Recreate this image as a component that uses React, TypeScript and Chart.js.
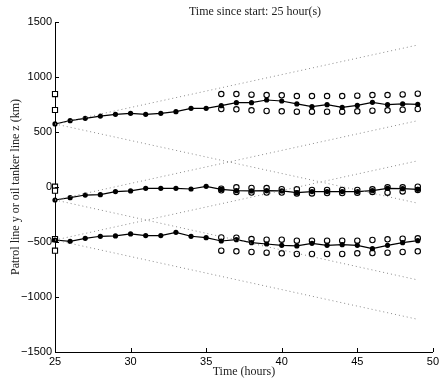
import { useEffect, useRef } from "react";
import { Chart, registerables } from "chart.js";

Chart.register(...registerables);

// ---- Data ----
const hours = [25, 26, 27, 28, 29, 30, 31, 32, 33, 34, 35, 36, 37, 38, 39, 40, 41, 42, 43, 44, 45, 46, 47, 48, 49];
const lineTop = [573, 603, 624, 645, 661, 670, 661, 670, 685, 715, 715, 739, 767, 767, 791, 782, 755, 730, 748, 724, 742, 770, 748, 755, 752];
const lineMid = [-118, -97, -73, -70, -42, -36, -12, -12, -12, -18, 6, -21, -33, -36, -33, -36, -52, -42, -42, -42, -42, -33, -12, -15, -21];
const lineBot = [-482, -494, -467, -448, -445, -427, -442, -442, -412, -448, -461, -491, -479, -506, -518, -530, -536, -512, -530, -524, -530, -561, -530, -506, -488];

const circleHours = [36, 37, 38, 39, 40, 41, 42, 43, 44, 45, 46, 47, 48, 49];
const topUpper = [845, 845, 839, 836, 833, 827, 827, 827, 827, 830, 836, 836, 842, 848];
const topLower = [709, 706, 697, 691, 688, 685, 685, 685, 685, 688, 694, 697, 703, 709];
const midUpper = [-15, -3, -8, -10, -20, -21, -27, -27, -27, -27, -21, -3, -3, 3];
const midLower = [-30, -45, -50, -50, -50, -58, -58, -55, -55, -52, -45, -52, -40, -27];
const botUpper = [-458, -461, -473, -479, -479, -488, -488, -488, -488, -488, -482, -476, -470, -467];
const botLower = [-579, -585, -591, -597, -603, -609, -609, -609, -609, -603, -600, -597, -591, -585];

const squareHour = 25;
const squareValues = [845, 700, 3, -33, -473, -579];

const coneStartHour = 25;
const coneEndHour = 49;
const coneStart = [573, -118, -482];
const coneUpperEnd = [1291, 603, 238];
const coneLowerEnd = [-147, -845, -1203];

const xTicks = [25, 30, 35, 40, 45, 50];
const yTicks = [-1500, -1000, -500, 0, 500, 1000, 1500];

const titleText = "Time since start: 25 hour(s)";
const xTitle = "Time (hours)";
const yTitle = "Patrol line y or oil tanker line z (km)";

const SERIF = "'Liberation Serif', 'DejaVu Serif', serif";
const SANS = "'Liberation Sans', Arial, sans-serif";

function pts(xs: number[], ys: number[]) {
  return xs.map((x, i) => ({ x, y: ys[i] }));
}

export default function App() {
  const ref = useRef<HTMLCanvasElement | null>(null);

  useEffect(() => {
    if (!ref.current) return;

    const cones: any[] = [];
    coneStart.forEach((s, i) => {
      [coneUpperEnd[i], coneLowerEnd[i]].forEach((e) => {
        cones.push({
          data: [
            { x: coneStartHour, y: s },
            { x: coneEndHour, y: e },
          ],
          borderColor: "#8a8a8a",
          borderWidth: 1,
          borderDash: [1, 3],
          pointRadius: 0,
          showLine: true,
          fill: false,
        });
      });
    });

    const solid = (vals: number[]) => ({
      data: pts(hours, vals),
      borderColor: "#000",
      borderWidth: 1.2,
      pointStyle: "circle",
      pointRadius: 2.6,
      pointBackgroundColor: "#000",
      pointBorderColor: "#000",
      pointBorderWidth: 0,
      showLine: true,
      fill: false,
      clip: false,
    });

    const open = (vals: number[]) => ({
      data: pts(circleHours, vals),
      showLine: false,
      pointStyle: "circle",
      pointRadius: 2.7,
      pointBackgroundColor: "rgba(0,0,0,0)",
      pointBorderColor: "#000",
      pointBorderWidth: 1.1,
      clip: false,
    });

    const squares = {
      data: squareValues.map((v) => ({ x: squareHour, y: v })),
      showLine: false,
      pointStyle: "rect",
      pointRadius: 3.6,
      pointBackgroundColor: "#fff",
      pointBorderColor: "#000",
      pointBorderWidth: 1.1,
      clip: false,
    };

    const decorations = {
      id: "decorations",
      afterDraw(chart: any) {
        const { ctx, scales } = chart;
        const xs = scales.x;
        const ys = scales.y;
        ctx.save();
        ctx.strokeStyle = "#000";
        ctx.lineWidth = 1;
        ctx.beginPath();
        xTicks.forEach((t) => {
          const px = Math.round(xs.getPixelForValue(t)) + 0.5;
          ctx.moveTo(px, ys.bottom);
          ctx.lineTo(px, ys.bottom - 4);
        });
        yTicks.forEach((t) => {
          const py = Math.round(ys.getPixelForValue(t)) + 0.5;
          ctx.moveTo(xs.left, py);
          ctx.lineTo(xs.left + 4, py);
        });
        ctx.stroke();
        ctx.fillStyle = "#222";
        ctx.font = `12px ${SERIF}`;
        ctx.textAlign = "center";
        ctx.textBaseline = "middle";
        ctx.fillText(titleText, 255, 12);
        ctx.restore();
      },
    };

    const chart = new Chart(ref.current, {
      type: "line",
      data: {
        datasets: [
          ...cones,
          solid(lineTop),
          solid(lineMid),
          solid(lineBot),
          open(topUpper),
          open(topLower),
          open(midUpper),
          open(midLower),
          open(botUpper),
          open(botLower),
          squares,
        ] as any,
      },
      options: {
        responsive: false,
        animation: false,
        devicePixelRatio: 1,
        layout: { padding: { left: 0, top: 22, right: 7, bottom: 0 } },
        plugins: {
          legend: { display: false },
          tooltip: { enabled: false },
          title: { display: false },
        },
        elements: { line: { tension: 0 } },
        scales: {
          x: {
            type: "linear",
            min: 25,
            max: 50,
            afterFit(scale: any) {
              scale.height = 29;
            },
            afterBuildTicks(scale: any) {
              scale.ticks = xTicks.map((v) => ({ value: v }));
            },
            grid: { drawOnChartArea: false, drawTicks: false },
            border: { display: true, color: "#000", width: 1 },
            ticks: {
              color: "#000",
              font: { family: SANS, size: 11 },
              padding: 3,
              maxRotation: 0,
              autoSkip: false,
              callback: (v: any) => String(v),
            },
            title: {
              display: true,
              text: xTitle,
              color: "#222",
              font: { family: SERIF, size: 12 },
              padding: { top: 0, bottom: 2 },
            },
          },
          y: {
            type: "linear",
            min: -1500,
            max: 1500,
            afterFit(scale: any) {
              scale.width = 55;
            },
            afterBuildTicks(scale: any) {
              scale.ticks = yTicks.map((v) => ({ value: v }));
            },
            grid: { drawOnChartArea: false, drawTicks: false },
            border: { display: true, color: "#000", width: 1 },
            ticks: {
              color: "#000",
              font: { family: SANS, size: 11 },
              padding: 3,
              autoSkip: false,
              callback: (v: any) => (Number(v) < 0 ? "\u2212" + Math.abs(Number(v)) : String(v)),
            },
            title: {
              display: true,
              text: yTitle,
              color: "#222",
              font: { family: SERIF, size: 12 },
              padding: { top: 9, bottom: 0 },
            },
          },
        },
      } as any,
      plugins: [decorations],
    });

    return () => chart.destroy();
  }, []);

  return (
    <div style={{ position: "absolute", left: 0, top: 0, width: 442, height: 381, background: "#fff" }}>
      <canvas ref={ref} width={442} height={381} style={{ display: "block", width: 442, height: 381 }} />
    </div>
  );
}
